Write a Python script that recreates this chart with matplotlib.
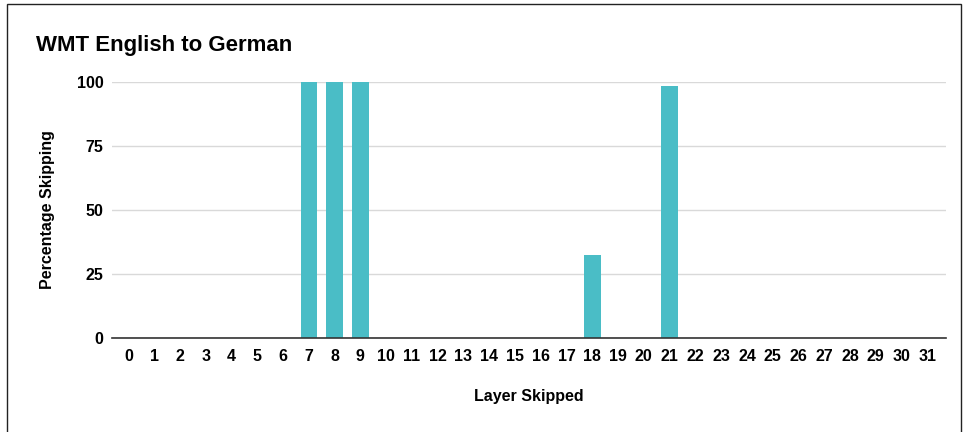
import matplotlib.pyplot as plt
from matplotlib.patches import Rectangle

layers = list(range(32))
skip_pct = [0, 0, 0, 0, 0, 0, 0, 100, 100, 100, 0, 0, 0, 0, 0, 0,
            0, 0, 32.3, 0, 0, 98.4, 0, 0, 0, 0, 0, 0, 0, 0, 0, 0]
y_ticks = [0, 25, 50, 75, 100]

plt.rcParams['font.family'] = ['Liberation Sans', 'DejaVu Sans']

fig = plt.figure(figsize=(9.64, 4.32), dpi=100)
ax = fig.add_axes([0.116, 0.218, 0.865, 0.592])

ax.bar(layers, skip_pct, width=0.64, color='#4abdc6', zorder=3)

ax.set_xlim(-0.64, 31.71)
ax.set_ylim(0, 100)
ax.set_xticks(layers)
ax.set_xticklabels([str(l) for l in layers], fontweight='bold', fontsize=11.5)
ax.set_yticks(y_ticks)
ax.set_yticklabels([str(v) for v in y_ticks], fontweight='bold', fontsize=11.5)
ax.tick_params(axis='x', length=0, pad=8)
ax.tick_params(axis='y', length=0, pad=6)
ax.grid(axis='y', color='#d9d9d9', linewidth=1, zorder=0)
for s in ['top', 'right', 'left']:
    ax.spines[s].set_visible(False)
ax.spines['bottom'].set_color('#333333')
ax.spines['bottom'].set_linewidth(1.2)
ax.spines['bottom'].set_zorder(4)

ax.set_xlabel('Layer Skipped', fontweight='bold', fontsize=11.5, labelpad=18)
ax.set_ylabel('Percentage Skipping', fontweight='bold', fontsize=11.5, labelpad=16)

fig.text(0.037, 0.882, 'WMT English to German', fontweight='bold', fontsize=16)

# outer frame
fig.patches.append(Rectangle((0.007, -0.01), 0.99, 1.0, transform=fig.transFigure,
                             fill=False, edgecolor='#222222', linewidth=1))

fig.savefig('out.png', dpi=100)
